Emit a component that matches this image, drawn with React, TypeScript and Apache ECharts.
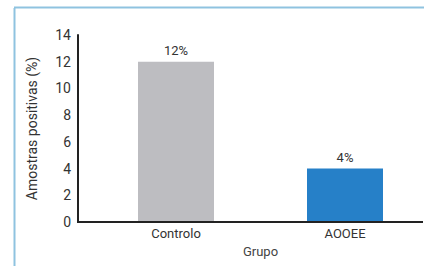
import React, { useEffect, useRef } from "react";
import * as echarts from "echarts";

const categories = ["Controlo", "AOOEE"];
const values = [12, 4];
const barColors = ["#bdbdc1", "#2680c8"];
const yTicks = { min: 0, max: 14, interval: 2 };

export default function App() {
  const ref = useRef<HTMLDivElement>(null);
  useEffect(() => {
    const chart = echarts.init(ref.current!, undefined, { renderer: "svg" });
    const font = "Roboto";
    chart.setOption({
      animation: false,
      textStyle: { fontFamily: font },
      grid: { left: 91.5, right: 10.5, top: 35, bottom: 44 },
      xAxis: {
        type: "category",
        data: categories,
        name: "Grupo",
        nameLocation: "middle",
        nameGap: 20,
        nameTextStyle: { color: "#444", fontSize: 13, fontFamily: font },
        axisLine: { show: false },
        axisTick: { show: false },
        axisLabel: { color: "#333", fontSize: 13, fontFamily: font, margin: 5 },
      },
      yAxis: {
        type: "value",
        min: yTicks.min,
        max: yTicks.max,
        interval: yTicks.interval,
        offset: 13.5,
        name: "Amostras positivas (%)",
        nameLocation: "middle",
        nameGap: 39,
        nameTextStyle: { color: "#333", fontSize: 14, fontFamily: font },
        axisLine: { show: true, lineStyle: { color: "#222", width: 2 } },
        axisTick: { show: false },
        splitLine: { show: false },
        axisLabel: { color: "#333", fontSize: 14, fontFamily: font, margin: 7 },
      },
      series: [
        {
          type: "bar",
          barWidth: 76,
          data: values.map((v, i) => ({ value: v, itemStyle: { color: barColors[i] } })),
          label: {
            show: true,
            position: "top",
            distance: 5,
            formatter: "{c}%",
            color: "#333",
            fontSize: 13,
            fontFamily: font,
          },
        },
      ],
      graphic: [
        {
          type: "line",
          shape: { x1: 77, y1: 222, x2: 423, y2: 222 },
          style: { stroke: "#222", lineWidth: 2 },
          z: 100,
        },
        {
          type: "line",
          shape: { x1: 14.5, y1: 8, x2: 14.5, y2: 266 },
          style: { stroke: "#8fc3e0", lineWidth: 2 },
        },
        {
          type: "line",
          shape: { x1: 14, y1: 7.5, x2: 440, y2: 7.5 },
          style: { stroke: "#8fc3e0", lineWidth: 2 },
        },
      ],
    });
    return () => chart.dispose();
  }, []);
  return (
    <div
      style={{ position: "fixed", left: 0, top: 0, width: 424, height: 266, overflow: "hidden", background: "#fff" }}
    >
      <div ref={ref} style={{ width: 440, height: 266 }} />
    </div>
  );
}
